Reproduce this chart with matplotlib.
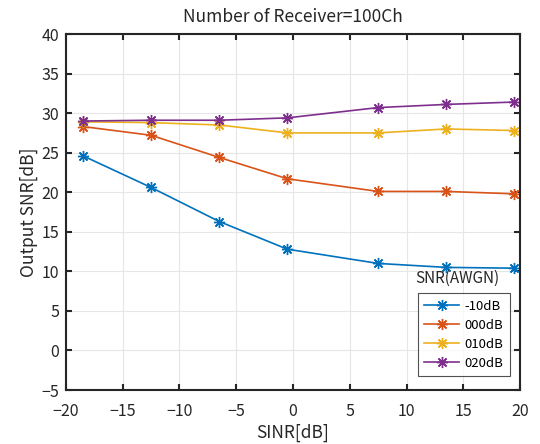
import matplotlib
matplotlib.use("Agg")
import matplotlib.pyplot as plt

plt.rcParams['font.family'] = ['Noto Sans CJK JP', 'DejaVu Sans']

sinr = [-18.5, -12.5, -6.5, -0.5, 7.5, 13.5, 19.5]
snr_m10 = [24.6, 20.6, 16.3, 12.8, 11.0, 10.5, 10.4]
snr_000 = [28.3, 27.2, 24.4, 21.7, 20.1, 20.1, 19.8]
snr_010 = [28.9, 28.8, 28.5, 27.5, 27.5, 28.0, 27.8]
snr_020 = [29.0, 29.1, 29.1, 29.4, 30.7, 31.1, 31.4]
labels = ['-10dB', '000dB', '010dB', '020dB']
colors = ['#0072BD', '#D95319', '#EDB120', '#7E2F8E']

fig = plt.figure(figsize=(5.4, 4.44), dpi=100)
ax = fig.add_axes([0.1222, 0.1216, 0.8408, 0.8018])

for ys, lab, c in zip([snr_m10, snr_000, snr_010, snr_020], labels, colors):
    ax.plot(sinr, ys, color=c, lw=1.2, marker=(8, 2, 0), markersize=8,
            markeredgewidth=1.0, label=lab)

ax.set_xlim(-20, 20)
ax.set_ylim(-5, 40)
ax.set_xticks(range(-20, 21, 5))
ax.set_yticks(range(-5, 41, 5))
ax.grid(True, color='#e6e6e6', lw=0.8)
ax.set_axisbelow(True)
for s in ax.spines.values():
    s.set_color('#262626')
    s.set_linewidth(1.5)
ax.tick_params(direction='in', top=True, right=True, length=4, width=1.5,
               color='#262626', labelsize=11.5, labelcolor='#262626')
ax.tick_params(axis='x', pad=9)
ax.tick_params(axis='y', pad=5)
ax.set_xlabel('SINR[dB]', fontsize=12.5, color='#262626', labelpad=3)
ax.set_ylabel('Output SNR[dB]', fontsize=12.5, color='#262626', labelpad=2)
ax.set_title('Number of Receiver=100Ch', fontsize=12.5, color='#262626', pad=9)

leg = ax.legend(loc='upper left', bbox_to_anchor=(0.775, 0.272), fontsize=9.5,
                frameon=True, fancybox=False, edgecolor='#262626',
                borderaxespad=0, handlelength=2.6, borderpad=0.5,
                labelspacing=0.45, handletextpad=0.4)
leg.get_frame().set_linewidth(0.8)
ax.text(0.861, 0.315, 'SNR(AWGN)', transform=ax.transAxes, fontsize=11,
        color='#262626', ha='center', va='center')

fig.savefig('out.png', dpi=100)
